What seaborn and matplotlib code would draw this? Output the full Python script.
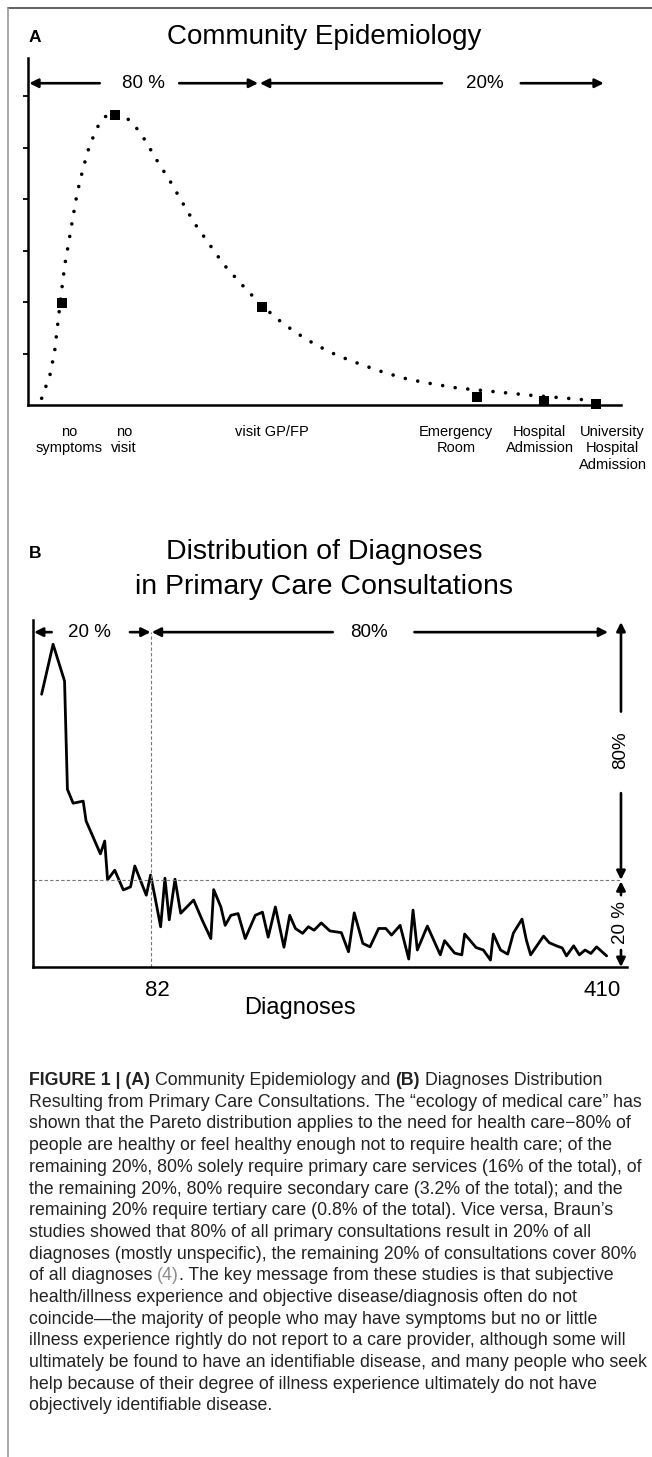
import numpy as np
import pandas as pd
import seaborn as sns
import matplotlib.pyplot as plt
from matplotlib.lines import Line2D

# Panel A: community epidemiology (stages of care seeking)
stage_labels = ["no\nsymptoms", "no\nvisit", "visit GP/FP", "Emergency\nRoom",
                "Hospital\nAdmission", "University\nHospital\nAdmission"]
stage_x = [5.8, 14.7, 39.5, 75.7, 87.0, 95.8]
stage_y = [1.99, 5.64, 1.91, 0.16, 0.08, 0.01]

# dotted curve
curve_x = [2.3, 3.7, 4.5, 5.2, 5.7, 6.2, 6.9, 7.6, 8.3, 9.3, 10.4, 12.1, 13.4,
           14.7, 17.2, 18.5, 19.7, 21.8, 24.0, 26.1, 28.2, 30.6, 33.0, 35.8,
           38.6, 41.7, 45.0, 48.5, 52.2, 56.1, 60.1, 64.1, 68.2, 72.4, 78.5,
           84.7, 91.0, 95.8]
curve_y = [0.13, 0.58, 1.05, 1.76, 2.25, 2.72, 3.18, 3.66, 4.12, 4.60, 5.05,
           5.49, 5.64, 5.68, 5.53, 5.35, 5.15, 4.74, 4.34, 3.92, 3.51, 3.12,
           2.73, 2.37, 2.03, 1.70, 1.42, 1.17, 0.96, 0.79, 0.63, 0.50, 0.41,
           0.33, 0.26, 0.19, 0.13, 0.08]

# Panel B: distribution of diagnoses (rank of diagnosis vs frequency)
diag_x = [6, 14, 22, 24, 28, 35, 37, 47, 50, 52, 57, 63, 68, 71, 79, 82, 85,
          89, 92, 95, 99, 103, 112, 118, 124, 126, 131, 134, 138, 143, 148,
          155, 160, 164, 169, 175, 179, 183, 188, 192, 196, 201, 207, 215,
          220, 224, 230, 235, 241, 246, 250, 256, 262, 265, 268, 275, 284,
          287, 294, 299, 301, 309, 314, 319, 321, 326, 331, 335, 341, 344,
          347, 356, 360, 365, 369, 372, 377, 381, 385, 389, 393, 400]
diag_y = [78.6, 93.0, 82.4, 51.2, 47.2, 47.8, 42.1, 32.6, 36.3, 25.1, 27.9,
          22.2, 23.1, 29.1, 20.7, 26.5, 20.3, 11.6, 25.6, 13.6, 25.3, 15.5,
          19.3, 13.5, 8.2, 22.3, 17.3, 12.0, 14.9, 15.4, 8.2, 14.9, 15.8, 8.6,
          17.3, 5.7, 14.9, 11.1, 9.7, 11.6, 10.6, 12.7, 10.4, 9.9, 4.4, 15.6,
          6.8, 5.8, 11.1, 11.1, 9.2, 12.0, 2.3, 16.4, 4.9, 11.8, 3.5, 7.6, 4.0,
          3.5, 9.5, 5.6, 4.9, 2.0, 9.5, 4.9, 3.7, 9.8, 13.8, 7.8, 3.5, 8.9,
          7.0, 6.1, 5.5, 3.2, 6.1, 3.5, 4.9, 3.9, 5.8, 3.2]
n_diag = 410
split_rank = 82
split_level = 25

caption_lines = [
    "Resulting from Primary Care Consultations. The \u201cecology of medical care\u201d has",
    "shown that the Pareto distribution applies to the need for health care\u221280% of",
    "people are healthy or feel healthy enough not to require health care; of the",
    "remaining 20%, 80% solely require primary care services (16% of the total), of",
    "the remaining 20%, 80% require secondary care (3.2% of the total); and the",
    "remaining 20% require tertiary care (0.8% of the total). Vice versa, Braun\u2019s",
    "studies showed that 80% of all primary consultations result in 20% of all",
    "diagnoses (mostly unspecific), the remaining 20% of consultations cover 80%",
    None,
    "health/illness experience and objective disease/diagnosis often do not",
    "coincide\u2014the majority of people who may have symptoms but no or little",
    "illness experience rightly do not report to a care provider, although some will",
    "ultimately be found to have an identifiable disease, and many people who seek",
    "help because of their degree of illness experience ultimately do not have",
    "objectively identifiable disease.",
]

sns.set_style("white")
plt.rcParams["font.family"] = ["Liberation Sans", "DejaVu Sans"]
plt.rcParams["text.color"] = "black"

W, H = 652, 1457


def fx(px):
    return px / W


def fy(py):
    return 1 - py / H


fig = plt.figure(figsize=(W / 100, H / 100), dpi=100)

# frame lines of the figure panel
fig.add_artist(Line2D([fx(7.5), 1], [fy(8), fy(8)], color="#555555", lw=1.3))
fig.add_artist(Line2D([fx(7.5), fx(7.5)], [fy(8), 0], color="#999999", lw=1.2))


def span(ax, a, b, text_pos, gap, label, fixed, vertical=False, size=13.5):
    # double arrow with the label sitting in a gap
    arrow = dict(arrowstyle="-|>", color="black", lw=1.9, mutation_scale=13,
                 shrinkA=0, shrinkB=0)
    for end, start in ((a, gap[0]), (b, gap[1])):
        if vertical:
            ax.annotate("", xy=(fixed, end), xytext=(fixed, start),
                        arrowprops=arrow, annotation_clip=False)
        else:
            ax.annotate("", xy=(end, fixed), xytext=(start, fixed),
                        arrowprops=arrow, annotation_clip=False)
    if vertical:
        ax.text(fixed, text_pos, label, rotation=90, ha="center", va="center",
                fontsize=size, clip_on=False)
    else:
        ax.text(text_pos, fixed, label, ha="center", va="center",
                fontsize=size, clip_on=False)


# ---------------- Panel A ----------------
axA = fig.add_axes([fx(28), fy(405), (621 - 28) / W, (405 - 58) / H])
sns.lineplot(x=curve_x, y=curve_y, ax=axA, color="black", lw=2.6,
             sort=False, estimator=None)
dots = axA.get_lines()[-1]
dots.set_linestyle((0, (0.01, 3.5)))
dots.set_dash_capstyle("round")
sns.scatterplot(x=stage_x, y=stage_y, ax=axA, marker="s", s=48,
                color="black", linewidth=0, zorder=3, clip_on=False)
axA.set_xlim(0, 100)
axA.set_ylim(0, 6.74)
axA.set_xticks([])
axA.set_yticks([1, 2, 3, 4, 5, 6])
axA.set_yticklabels([])
axA.tick_params(axis="y", length=3.5, width=1.3, color="black", direction="out", left=True)
sns.despine(ax=axA)
for s in ["left", "bottom"]:
    axA.spines[s].set_color("black")
    axA.spines[s].set_linewidth(1.8)

label_x = [7.0, 16.2, 41.2, 72.2, 86.3, 98.6]
for lx, lab in zip(label_x, stage_labels):
    axA.text(lx, -0.058, lab, transform=axA.get_xaxis_transform(),
             ha="center", va="top", fontsize=10.5, linespacing=1.2)

span(axA, 0.2, 38.8, 19.4, (12.1, 25.5), "80 %", 6.25)
span(axA, 39.1, 97.1, 77.1, (69.8, 83.1), "20%", 6.25)

fig.text(fx(29), fy(37), "A", fontsize=12.5, weight="bold", va="center")
fig.text(fx(324), fy(37), "Community Epidemiology", fontsize=20,
         ha="center", va="center")

# ---------------- Panel B ----------------
axB = fig.add_axes([fx(33), fy(967), (627 - 33) / W, (967 - 620) / H])
sns.lineplot(x=diag_x, y=diag_y, ax=axB, color="black", lw=2.0,
             sort=False, estimator=None)
xmax = 414.2
axB.set_xlim(0, xmax)
axB.set_ylim(0, 100)
axB.set_xticks([])
axB.set_yticks([])
sns.despine(ax=axB)
for s in ["left", "bottom"]:
    axB.spines[s].set_color("black")
    axB.spines[s].set_linewidth(1.8)

axB.axvline(split_rank, ymin=0, ymax=0.965, color="#777777", lw=0.8,
            ls=(0, (3, 2)))
axB.axhline(split_level, xmin=0, xmax=n_diag / xmax, color="#777777", lw=0.8,
            ls=(0, (3, 2)))

span(axB, 0.7, split_rank, 39.7, (13, 67.6), "20 %", 96.5)
span(axB, split_rank + 0.8, 401, 234, (209, 266), "80%", 96.5)
span(axB, 99.4, split_level + 0.1, 62.5, (73.6, 50.1), "80%", n_diag,
     vertical=True)
span(axB, split_level - 0.3, 0, 12.7, (20.7, 4.9), "20 %", n_diag,
     vertical=True)

fig.text(fx(157), fy(990), str(split_rank), fontsize=16, ha="center", va="center")
fig.text(fx(602), fy(990), str(n_diag), fontsize=16, ha="center", va="center")
fig.text(fx(300), fy(1008), "Diagnoses", fontsize=17, ha="center", va="center")

fig.text(fx(29), fy(553), "B", fontsize=12.5, weight="bold", va="center")
fig.text(fx(324), fy(552), "Distribution of Diagnoses", fontsize=20.5,
         ha="center", va="center")
fig.text(fx(324), fy(587), "in Primary Care Consultations", fontsize=20.5,
         ha="center", va="center")

# ---------------- Caption ----------------
cap_size = 12.75
cap_color = "#222222"
space_pt = 0.278 * cap_size


def rich_line(segments, y):
    prev = None
    for txt, weight, color, gap in segments:
        if prev is None:
            prev = fig.text(fx(29), fy(y), txt, fontsize=cap_size, weight=weight,
                            color=color, va="baseline")
        else:
            prev = axB.annotate(txt, xy=(1, 0), xycoords=prev,
                                xytext=(gap, 0), textcoords="offset points",
                                fontsize=cap_size, weight=weight, color=color,
                                va="bottom", ha="left", annotation_clip=False)


base0 = 1085
step = 21.7
rich_line([("FIGURE 1 | (A)", "bold", cap_color, 0),
           ("Community Epidemiology and", "normal", cap_color, space_pt),
           ("(B)", "bold", cap_color, space_pt),
           ("Diagnoses Distribution", "normal", cap_color, space_pt)], base0)
for i, line in enumerate(caption_lines):
    y = base0 + step * (i + 1)
    if line is None:
        rich_line([("of all diagnoses", "normal", cap_color, 0),
                   ("(4)", "normal", "#8c8c8c", space_pt),
                   (". The key message from these studies is that subjective",
                    "normal", cap_color, 0)], y)
    else:
        fig.text(fx(29), fy(y), line, fontsize=cap_size, color=cap_color,
                 va="baseline")

fig.savefig("out.png", dpi=100)
